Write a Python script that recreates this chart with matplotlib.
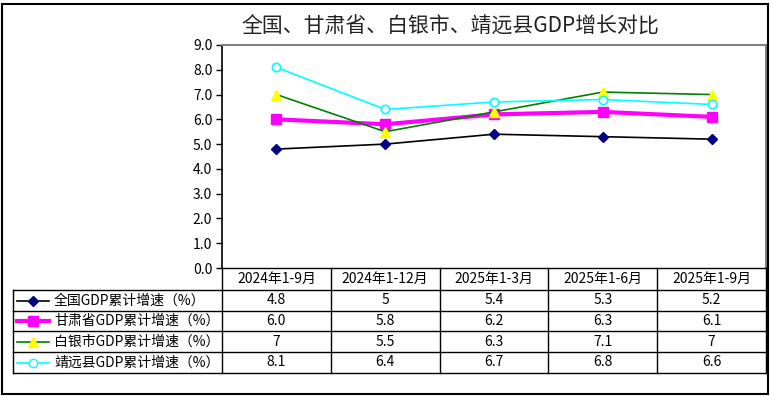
import matplotlib
matplotlib.use("Agg")
import matplotlib.pyplot as plt
from matplotlib.patches import Rectangle

plt.rcParams['font.family'] = ['Noto Sans CJK SC', 'DejaVu Sans']

# chart data
periods = ['2024年1-9月', '2024年1-12月', '2025年1-3月', '2025年1-6月', '2025年1-9月']
series_names = ['全国GDP累计增速（%）', '甘肃省GDP累计增速（%）',
                '白银市GDP累计增速（%）', '靖远县GDP累计增速（%）']
national = [4.8, 5, 5.4, 5.3, 5.2]
gansu = [6.0, 5.8, 6.2, 6.3, 6.1]
baiyin = [7, 5.5, 6.3, 7.1, 7]
jingyuan = [8.1, 6.4, 6.7, 6.8, 6.6]
# cell texts as shown in the table
national_txt = ['4.8', '5', '5.4', '5.3', '5.2']
gansu_txt = ['6.0', '5.8', '6.2', '6.3', '6.1']
baiyin_txt = ['7', '5.5', '6.3', '7.1', '7']
jingyuan_txt = ['8.1', '6.4', '6.7', '6.8', '6.6']

styles = [
    dict(color='black', lw=1.2, marker='D', ms=5, mfc='#000080', mec='#000080'),
    dict(color='#ff00ff', lw=3, marker='s', ms=7, mfc='#ff00ff', mec='#ff00ff'),
    dict(color='#008000', lw=1.2, marker='^', ms=7, mfc='#ffff00', mec='#ffff00'),
    dict(color='#00ffff', lw=1.2, marker='o', ms=6, mfc='white', mec='#00ffff', mew=1.2),
]
values = [national, gansu, baiyin, jingyuan]
texts = [national_txt, gansu_txt, baiyin_txt, jingyuan_txt]

W, H = 770, 397
fig = plt.figure(figsize=(W / 100, H / 100), dpi=100)

# pixel layout
px_left, px_right, px_top, px_bottom = 222, 766, 45, 268
leg_left = 13
row_edges = [268, 290, 311, 331, 352, 373]

ax = fig.add_axes([px_left / W, 1 - px_bottom / H,
                   (px_right - px_left) / W, (px_bottom - px_top) / H])
x = list(range(len(periods)))
for vals, st in zip(values, styles):
    ax.plot(x, vals, **st)
ax.set_xlim(-0.5, len(periods) - 0.5)
ax.set_ylim(0, 9)
ax.set_yticks([i for i in range(10)])
ax.set_yticklabels([f'{i:.1f}' for i in range(10)], fontsize=10)
ax.set_xticks([])
ax.tick_params(axis='y', direction='out', length=4, width=1, pad=3)
for s in ['top', 'right']:
    ax.spines[s].set_color('#808080')
    ax.spines[s].set_linewidth(1.5)
ax.spines['left'].set_color('black')
ax.spines['left'].set_linewidth(1.2)
ax.spines['bottom'].set_visible(False)

# overlay in pixel coordinates for table, title and frame
ov2 = fig.add_axes([0, 0, 1, 1], zorder=5)
ov2.set_xlim(0, W)
ov2.set_ylim(H, 0)
ov2.axis('off')
ov2.patch.set_alpha(0)

ov2.add_patch(Rectangle((1.5, 3.5), 766.5, 390, fill=False, ec='black', lw=1.5))
ov2.text(450, 27, '全国、甘肃省、白银市、靖远县GDP增长对比', ha='center', va='center',
         fontsize=15, color='#222222')

ncol = len(periods)
col_w = (px_right - px_left) / ncol
col_edges = [px_left + i * col_w for i in range(ncol + 1)]

# table lines
ov2.plot([px_left, px_right], [row_edges[0], row_edges[0]], color='black', lw=1)
for y in row_edges[1:]:
    ov2.plot([leg_left, px_right], [y, y], color='black', lw=1)
ov2.plot([leg_left, leg_left], [row_edges[1], row_edges[-1]], color='black', lw=1)
for cx in col_edges:
    ov2.plot([cx, cx], [row_edges[0], row_edges[-1]], color='black', lw=1)

# header
hy = (row_edges[0] + row_edges[1]) / 2
for i, p in enumerate(periods):
    ov2.text((col_edges[i] + col_edges[i + 1]) / 2, hy, p, ha='center', va='center', fontsize=10)

# rows
for r, (name, txt, st) in enumerate(zip(series_names, texts, styles)):
    ry = (row_edges[r + 1] + row_edges[r + 2]) / 2
    ov2.plot([17, 49], [ry, ry], color=st['color'], lw=st['lw'])
    ov2.plot([33], [ry], ls='none', marker=st['marker'], ms=st['ms'],
             mfc=st['mfc'], mec=st['mec'])
    ov2.text(54, ry, name, ha='left', va='center', fontsize=10)
    for i, t in enumerate(txt):
        ov2.text((col_edges[i] + col_edges[i + 1]) / 2, ry, t, ha='center', va='center', fontsize=10)

fig.savefig('out.png', dpi=100)
